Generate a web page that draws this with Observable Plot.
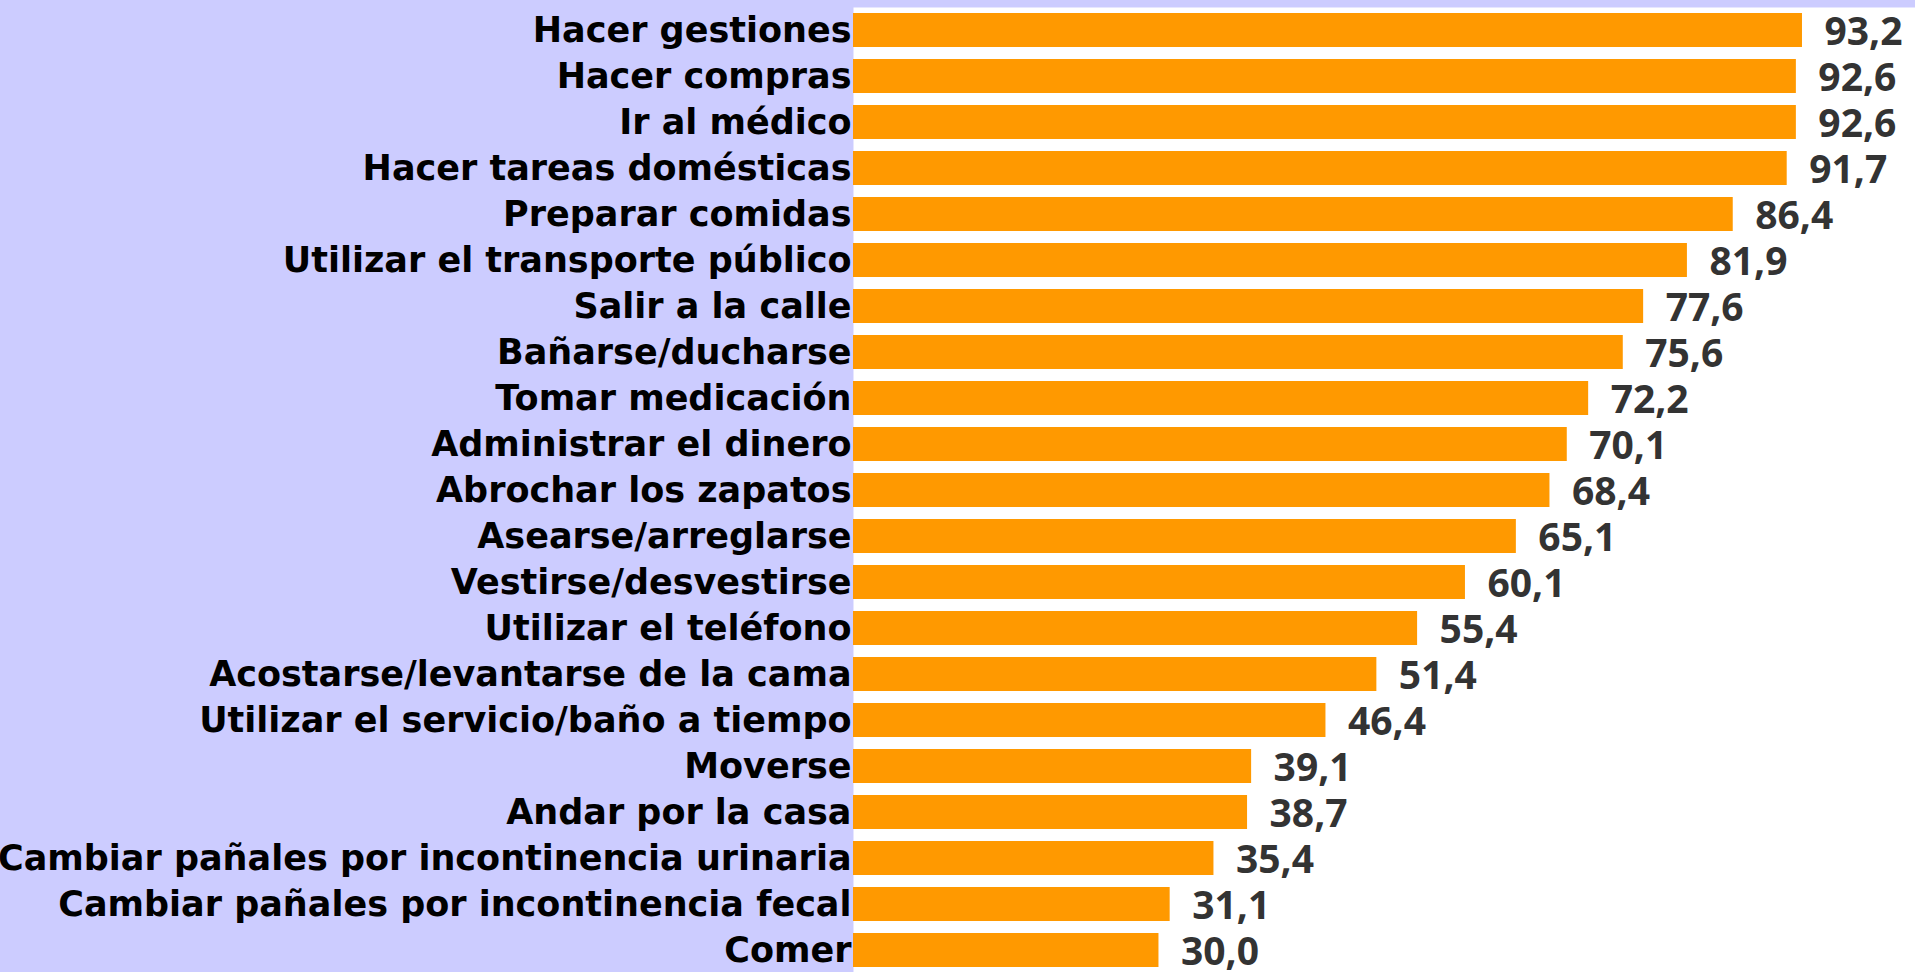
<!DOCTYPE html>
<html>
<head>
<meta charset="utf-8">
<script src="https://cdn.jsdelivr.net/npm/d3@7"></script>
<script src="https://cdn.jsdelivr.net/npm/@observablehq/plot@0.6"></script>
<style>
  html, body { margin: 0; padding: 0; background: #CCCCFF; overflow: hidden; }
</style>
</head>
<body>
<div id="chart"></div>
<script>
const categories = [
  "Hacer gestiones",
  "Hacer compras",
  "Ir al médico",
  "Hacer tareas domésticas",
  "Preparar comidas",
  "Utilizar el transporte público",
  "Salir a la calle",
  "Bañarse/ducharse",
  "Tomar medicación",
  "Administrar el dinero",
  "Abrochar los zapatos",
  "Asearse/arreglarse",
  "Vestirse/desvestirse",
  "Utilizar el teléfono",
  "Acostarse/levantarse de la cama",
  "Utilizar el servicio/baño a tiempo",
  "Moverse",
  "Andar por la casa",
  "Cambiar pañales por incontinencia urinaria",
  "Cambiar pañales por incontinencia fecal",
  "Comer"
];
const values = [93.2, 92.6, 92.6, 91.7, 86.4, 81.9, 77.6, 75.6, 72.2, 70.1, 68.4, 65.1, 60.1, 55.4, 51.4, 46.4, 39.1, 38.7, 35.4, 31.1, 30.0];
const valueLabels = ["93,2", "92,6", "92,6", "91,7", "86,4", "81,9", "77,6", "75,6", "72,2", "70,1", "68,4", "65,1", "60,1", "55,4", "51,4", "46,4", "39,1", "38,7", "35,4", "31,1", "30,0"];

const data = categories.map((c, i) => ({activity: c, value: values[i], label: valueLabels[i]}));

const chart = Plot.plot({
  width: 1915,
  height: 972,
  marginLeft: 853,
  marginRight: 0,
  marginTop: 7,
  marginBottom: 0,
  style: {background: "#CCCCFF", fontFamily: "'DejaVu Sans', sans-serif", fontWeight: "bold", color: "black"},
  x: {domain: [0, 104.3], axis: null},
  y: {domain: categories, paddingInner: 0.262, paddingOuter: 0.104, label: null, axis: null},
  marks: [
    Plot.frame({fill: "white", stroke: "none"}),
    Plot.barX(data, {x: "value", y: "activity", fill: "#FF9900"}),
    Plot.text(data, {x: "value", y: "activity", text: "label", dx: 22, dy: 2, textAnchor: "start",
      fontSize: 39, fontFamily: "'Open Sans', sans-serif", fontWeight: "bold", fill: "#333333"}),
    Plot.axisY({tickSize: 0, tickPadding: 2, fontSize: 35, label: null, fill: "black"})
  ]
});
document.getElementById("chart").appendChild(chart);
</script>
</body>
</html>
